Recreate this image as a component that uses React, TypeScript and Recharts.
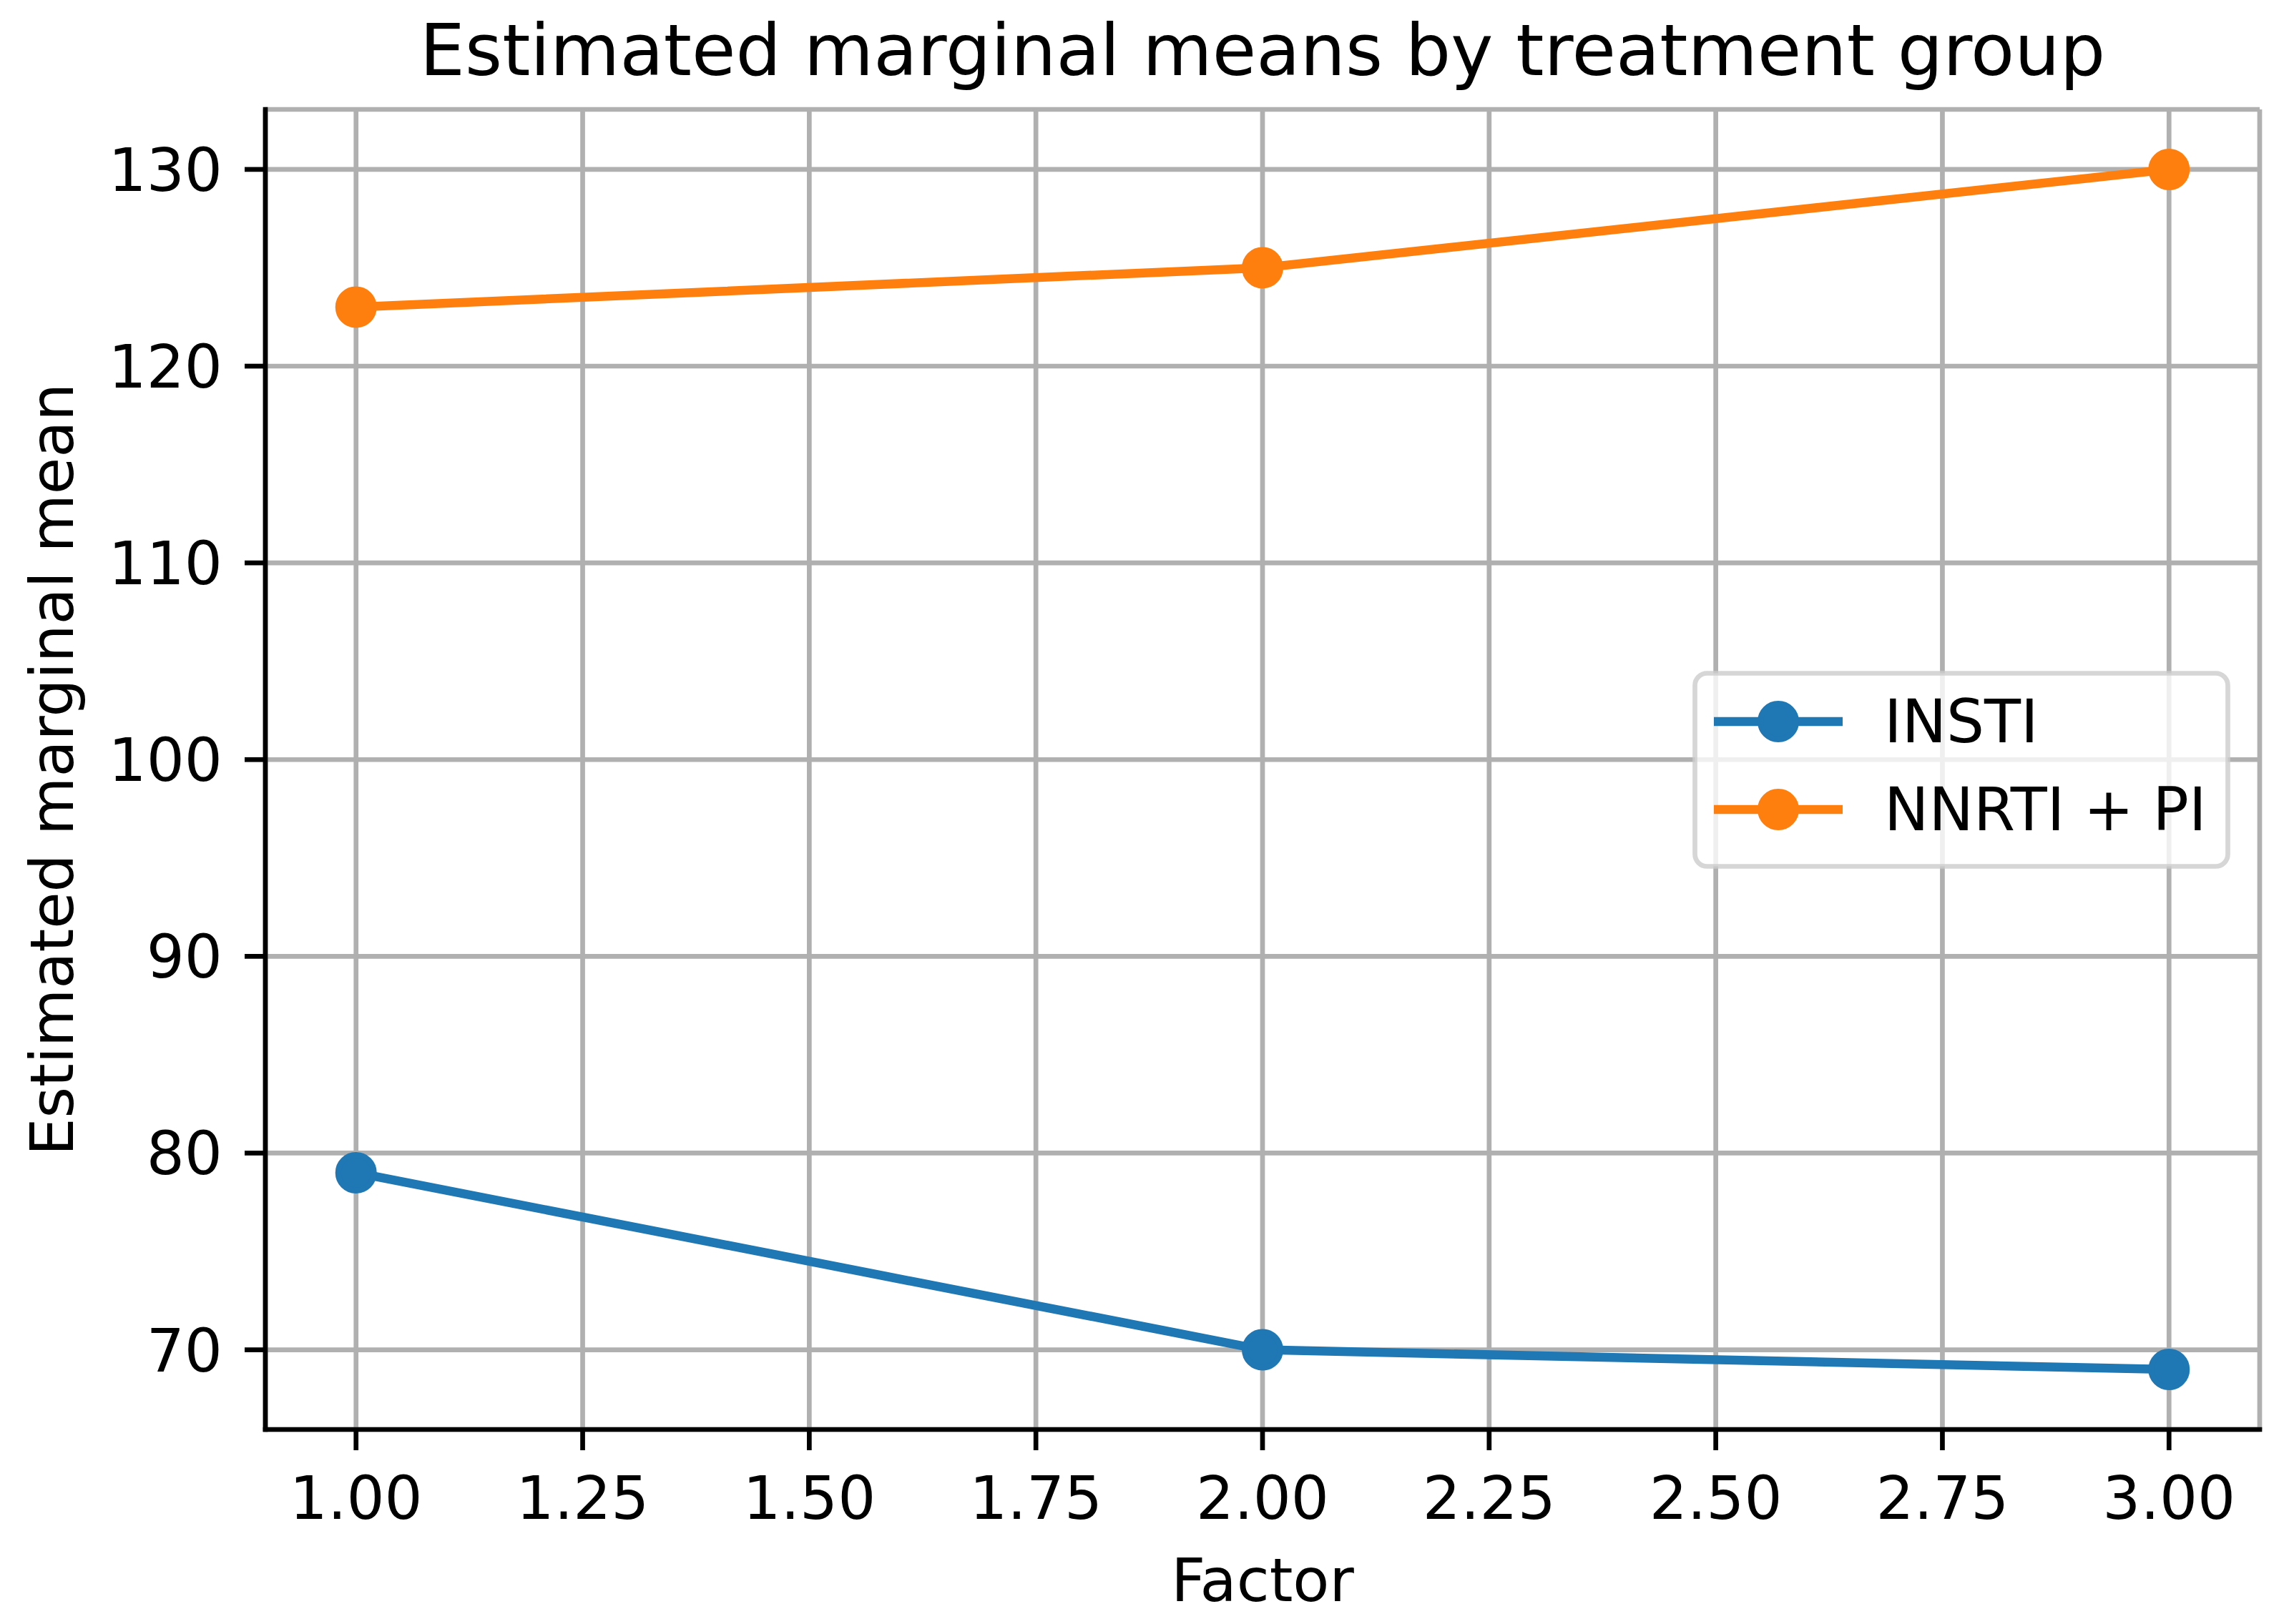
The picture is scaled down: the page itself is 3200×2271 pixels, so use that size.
import React from 'react';
import { LineChart, Line, XAxis, YAxis, CartesianGrid, Legend } from 'recharts';

const factors = [1, 2, 3];
const instiValues = [79, 70, 69];
const nnrtiValues = [123, 125, 130];
const xTicks = [1, 1.25, 1.5, 1.75, 2, 2.25, 2.5, 2.75, 3];
const yTicks = [70, 80, 90, 100, 110, 120, 130];
const xDomain = [0.9, 3.1];
const yDomain = [65.95, 133.05];

const seriesList = [
  { key: 'insti', name: 'INSTI', color: '#1f77b4' },
  { key: 'nnrti', name: 'NNRTI + PI', color: '#ff7f0e' },
];

const data = factors.map((f, i) => ({ x: f, insti: instiValues[i], nnrti: nnrtiValues[i] }));

const FONT = '"DejaVu Sans", sans-serif';
const W = 3200;
const H = 2271;
const THIN = 6.7;
const FS = 83.5;

const XTick = (props: any) => {
  const { x, y, payload } = props;
  return (
    <text x={x} y={y} dy={96} textAnchor="middle" fontFamily={FONT} fontSize={FS} fill="#000">
      {Number(payload.value).toFixed(2)}
    </text>
  );
};

const YTick = (props: any) => {
  const { x, y, payload } = props;
  return (
    <text x={x} y={y} dy={30} textAnchor="end" fontFamily={FONT} fontSize={FS} fill="#000">
      {payload.value}
    </text>
  );
};

const LegendContent = () => {
  const w = 752;
  const h = 277;
  return (
    <svg width={w} height={h} style={{ display: 'block', overflow: 'visible' }}>
      <rect x={3.5} y={3.5} width={w - 7} height={h - 7} rx={17} ry={17}
        fill="#ffffff" fillOpacity={0.8} stroke="#cccccc" strokeOpacity={0.8} strokeWidth={THIN} />
      {seriesList.map((s, i) => {
        const cy = 71 + i * 123;
        return (
          <g key={s.key}>
            <line x1={30} x2={210} y1={cy} y2={cy} stroke={s.color} strokeWidth={12.5} />
            <circle cx={120} cy={cy} r={25} fill={s.color} stroke={s.color} strokeWidth={8} />
            <text x={268} y={cy + 29} fontFamily={FONT} fontSize={FS} fill="#000">{s.name}</text>
          </g>
        );
      })}
    </svg>
  );
};

export default function App() {
  const axisLine = { stroke: '#000', strokeWidth: THIN, strokeLinecap: 'square' as const };
  const tickLine = { stroke: '#000', strokeWidth: THIN };
  return (
    <div style={{ position: 'absolute', left: 0, top: 0, width: W, height: H, background: '#fff' }}>
      <LineChart width={W} height={H} data={data}
        margin={{ top: 153, right: 41, bottom: 152, left: 171 }}>
        <CartesianGrid stroke="#b0b0b0" strokeWidth={THIN} />
        <XAxis type="number" dataKey="x" domain={xDomain} ticks={xTicks} interval={0}
          height={120} tickSize={29} tickMargin={0} tick={<XTick />}
          axisLine={axisLine} tickLine={tickLine} allowDataOverflow />
        <YAxis type="number" domain={yDomain} ticks={yTicks} interval={0}
          width={200} tickSize={29} tickMargin={31} tick={<YTick />}
          axisLine={axisLine} tickLine={tickLine} allowDataOverflow />
        <XAxis xAxisId="top" orientation="top" type="number" domain={xDomain} height={0}
          tick={false} tickLine={false} axisLine={axisLine} allowDataOverflow />
        <YAxis yAxisId="right" orientation="right" type="number" domain={yDomain} width={0}
          tick={false} tickLine={false} axisLine={axisLine} allowDataOverflow />
        {seriesList.map((s) => (
          <Line key={s.key} type="linear" dataKey={s.key} name={s.name} stroke={s.color}
            strokeWidth={12.5} isAnimationActive={false}
            dot={{ r: 25, fill: s.color, stroke: s.color, strokeWidth: 8 }} activeDot={false} />
        ))}
        <Legend layout="vertical" align="center" verticalAlign="middle" content={<LegendContent />}
          wrapperStyle={{ position: 'absolute', left: 2366, top: 938, width: 752, height: 277, margin: 0, padding: 0 }} />
      </LineChart>
      <svg width={W} height={H} style={{ position: 'absolute', left: 0, top: 0, pointerEvents: 'none' }}>
        <text x={1765} y={105} textAnchor="middle" fontFamily={FONT} fontSize={100} fill="#000">
          Estimated marginal means by treatment group
        </text>
        <text x={1765} y={2239} textAnchor="middle" fontFamily={FONT} fontSize={FS} fill="#000">
          Factor
        </text>
        <text x={102} y={1076} textAnchor="middle" fontFamily={FONT} fontSize={FS} fill="#000"
          transform="rotate(-90, 102, 1076)">
          Estimated marginal mean
        </text>
      </svg>
    </div>
  );
}
